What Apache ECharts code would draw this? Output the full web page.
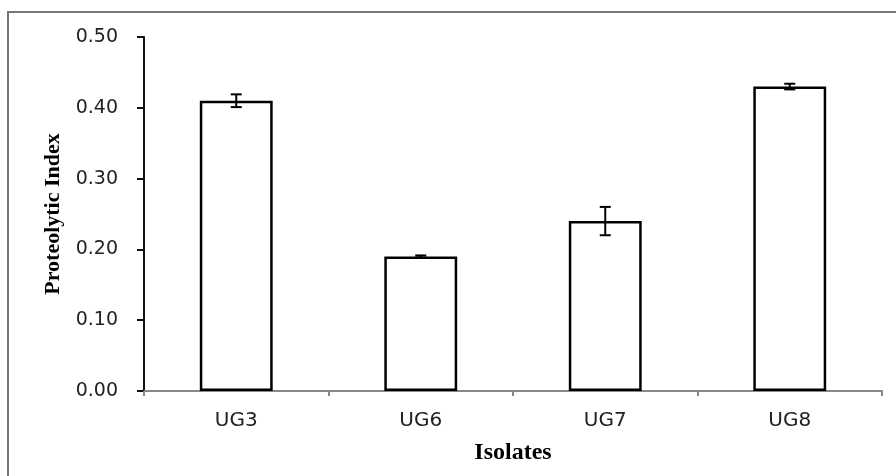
<!DOCTYPE html>
<html>
<head>
<meta charset="utf-8">
<script src="https://cdn.jsdelivr.net/npm/echarts@6/dist/echarts.min.js"></script>
<style>
html,body{margin:0;padding:0;background:#fff;}
#chart{width:896px;height:476px;}
</style>
</head>
<body>
<div id="chart"></div>
<script>
var categories = ['UG3', 'UG6', 'UG7', 'UG8'];
var values = [0.41, 0.19, 0.24, 0.43];
var errors = [0.009, 0.0015, 0.02, 0.004];
var yTicks = [0, 0.1, 0.2, 0.3, 0.4, 0.5];

var chart = echarts.init(document.getElementById('chart'));
var errData = categories.map(function (c, i) { return [i, values[i] - errors[i], values[i] + errors[i]]; });

chart.setOption({
  animation: false,
  backgroundColor: '#fff',
  graphic: [{
    type: 'rect',
    shape: { x: 8, y: 12, width: 900, height: 480 },
    style: { fill: 'none', stroke: '#777', lineWidth: 2 },
    silent: true
  }],
  grid: { left: 144, right: 14, top: 37, bottom: 85 },
  xAxis: {
    type: 'category',
    data: categories,
    name: 'Isolates',
    nameLocation: 'middle',
    nameGap: 50,
    nameTextStyle: { fontFamily: 'Liberation Serif', fontWeight: 'bold', fontSize: 24, color: '#000' },
    axisLine: { lineStyle: { color: '#888', width: 2 } },
    axisTick: { show: true, length: 5, lineStyle: { color: '#888', width: 2 } },
    axisLabel: { fontFamily: 'DejaVu Sans', fontSize: 20, color: '#222', margin: 20 }
  },
  yAxis: {
    type: 'value',
    min: yTicks[0],
    max: yTicks[yTicks.length - 1],
    interval: 0.1,
    name: 'Proteolytic Index',
    nameLocation: 'middle',
    nameGap: 79,
    nameTextStyle: { fontFamily: 'Liberation Serif', fontWeight: 'bold', fontSize: 22, color: '#000' },
    splitLine: { show: false },
    axisLine: { show: true, lineStyle: { color: '#111', width: 2 } },
    axisTick: { show: true, length: 7, lineStyle: { color: '#111', width: 2 } },
    axisLabel: { fontFamily: 'DejaVu Sans', fontSize: 19, color: '#222', margin: 26,
      formatter: function (v) { return v.toFixed(2); } }
  },
  series: [{
    type: 'bar',
    data: values,
    barWidth: '39.5%',
    itemStyle: { color: '#fff', borderColor: '#000', borderWidth: 2.5 }
  }, {
    type: 'custom',
    data: errData,
    z: 10,
    renderItem: function (params, api) {
      var x = api.value(0);
      var lo = api.coord([x, api.value(1)]);
      var hi = api.coord([x, api.value(2)]);
      var hw = 5.5;
      var st = { stroke: '#000', lineWidth: 2, fill: 'none' };
      return {
        type: 'group',
        children: [
          { type: 'line', shape: { x1: lo[0], y1: lo[1], x2: hi[0], y2: hi[1] }, style: st },
          { type: 'line', shape: { x1: lo[0] - hw, y1: lo[1], x2: lo[0] + hw, y2: lo[1] }, style: st },
          { type: 'line', shape: { x1: hi[0] - hw, y1: hi[1], x2: hi[0] + hw, y2: hi[1] }, style: st }
        ]
      };
    }
  }]
});
</script>
</body>
</html>
